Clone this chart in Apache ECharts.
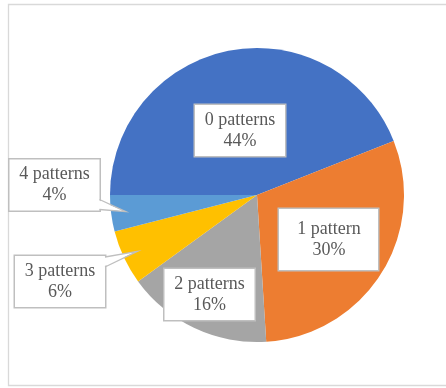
<!DOCTYPE html>
<html>
<head>
<meta charset="utf-8">
<style>
  html, body { margin: 0; padding: 0; background: #ffffff; }
  #chart { width: 446px; height: 388px; }
</style>
<script src="https://cdn.jsdelivr.net/npm/echarts@6/dist/echarts.min.js"></script>
</head>
<body>
<div id="chart"></div>
<script>
// Share of items by number of patterns found
const categories = ['0 patterns', '1 pattern', '2 patterns', '3 patterns', '4 patterns'];
const shares = [44, 30, 16, 6, 4];

// Slice colours (Office palette)
const sliceColors = ['#4472C4', '#ED7D31', '#A5A5A5', '#FFC000', '#5B9BD5'];

// Label box placement: centre of each box, and its inner padding [top, right, bottom, left]
const labelCenters = [[240, 130.5], [328.5, 239.5], [209.5, 294.5], [60, 281.5], [54.5, 185]];
const labelPadding = [[8, 9, 1, 9], [12, 13, 7, 14], [8, 9, 1, 9], [8, 9, 1, 9], [8, 9, 1, 9]];
// Labels drawn outside the pie with a callout pointer into their slice
const calloutSlices = [3, 4];

const pieCenter = [257, 195];
const pieRadius = 147;
const pieStartAngle = 180;
const labelTextWidth = 72;
const labelLineHeight = 21;
const boxBorder = '#bfbfbf';

const chart = echarts.init(document.getElementById('chart'), null, { renderer: 'canvas' });

const total = shares.reduce((a, b) => a + b, 0);

// Point inside slice i, on its mid-angle, at fraction k of the radius
function sliceMidPoint(i, k) {
  let before = 0;
  for (let j = 0; j < i; j++) before += shares[j];
  const deg = pieStartAngle - 360 * (before + shares[i] / 2) / total;
  const rad = deg * Math.PI / 180;
  return [
    pieCenter[0] + Math.cos(rad) * pieRadius * k,
    pieCenter[1] - Math.sin(rad) * pieRadius * k
  ];
}

// Callout pointers: a narrow wedge from the right side of the label box to a tip inside the slice
const calloutGraphics = [];
calloutSlices.forEach(i => {
  const pad = labelPadding[i];
  const w = labelTextWidth + pad[1] + pad[3];
  const h = labelLineHeight * 2 + pad[0] + pad[2];
  const right = labelCenters[i][0] + w / 2;
  const top = labelCenters[i][1] - h / 2;
  const bottom = labelCenters[i][1] + h / 2;
  const tip = sliceMidPoint(i, 0.9);
  const yb = Math.min(Math.max(tip[1], top + 6), bottom - 6);
  calloutGraphics.push({
    type: 'polygon',
    silent: true,
    z: 100,
    shape: { points: [tip, [right - 1.5, yb - 4.5], [right - 1.5, yb + 4.5]] },
    style: { fill: '#ffffff', stroke: null }
  });
  calloutGraphics.push({
    type: 'polyline',
    silent: true,
    z: 101,
    shape: { points: [[right, yb - 5], tip, [right, yb + 5]] },
    style: { fill: null, stroke: boxBorder, lineWidth: 1.3 }
  });
});

const data = categories.map((name, i) => ({
  name: name,
  value: shares[i],
  itemStyle: { color: sliceColors[i] },
  label: { padding: labelPadding[i] }
}));

chart.setOption({
  animation: false,
  graphic: [{
    type: 'rect',
    silent: true,
    shape: { x: 8.5, y: 4.5, width: 470, height: 381 },
    style: { fill: 'none', stroke: '#d9d9d9', lineWidth: 1.3 }
  }].concat(calloutGraphics),
  series: [{
    type: 'pie',
    center: pieCenter,
    radius: pieRadius,
    startAngle: pieStartAngle,
    clockwise: true,
    avoidLabelOverlap: false,
    emphasis: { disabled: true },
    itemStyle: { borderWidth: 0 },
    label: {
      show: true,
      position: 'inside',
      formatter: '{b}\n{d}%',
      fontFamily: 'Liberation Serif',
      fontSize: 18,
      lineHeight: labelLineHeight,
      color: '#595959',
      width: labelTextWidth,
      align: 'center',
      backgroundColor: '#ffffff',
      borderColor: boxBorder,
      borderWidth: 1.5,
      overflow: 'none'
    },
    labelLine: { show: false },
    labelLayout: function (params) {
      const c = labelCenters[params.dataIndex];
      return { x: c[0], y: c[1], align: 'center', verticalAlign: 'middle' };
    },
    data: data
  }]
});
</script>
</body>
</html>
